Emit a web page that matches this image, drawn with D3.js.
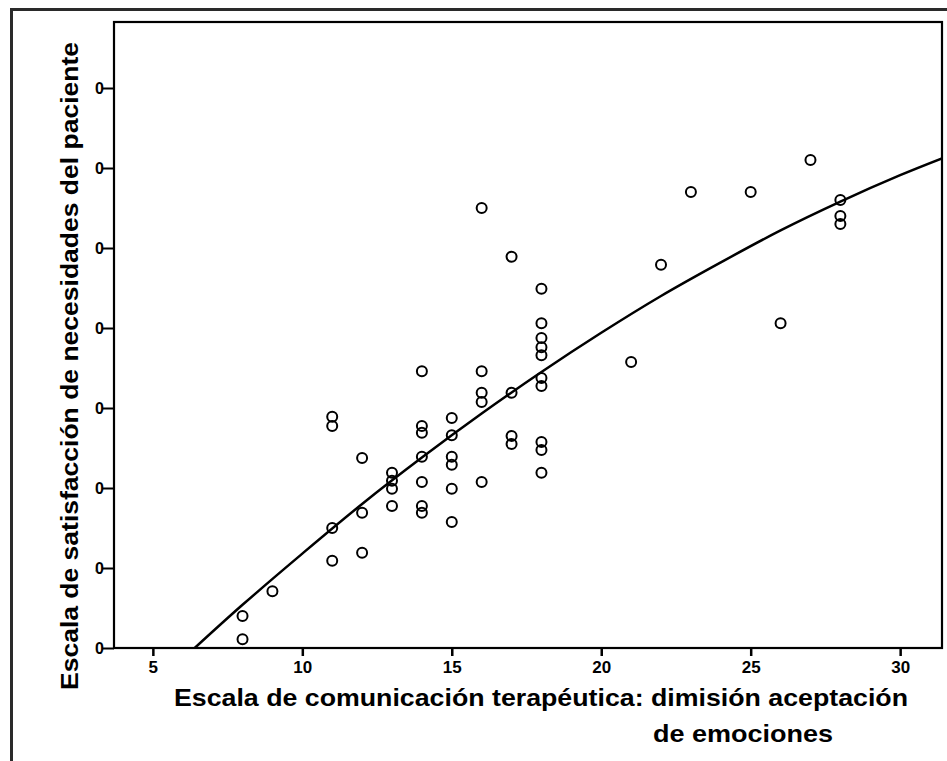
<!DOCTYPE html>
<html>
<head>
<meta charset="utf-8">
<script src="https://cdn.jsdelivr.net/npm/d3@7"></script>
<style>
  body { margin: 0; background: #fff; }
  svg { display: block; font-family: "Liberation Sans", Arial, sans-serif; }
</style>
</head>
<body>
<svg id="chart" width="947" height="761"></svg>
<script>
// observed cases (x = comunicación terapéutica, y = satisfacción)
const obsX = [8, 8, 9, 11, 11, 11, 11, 12, 12, 12, 13, 13, 13, 13,
  14, 14, 14, 14, 14, 14, 14, 15, 15, 15, 15, 15, 15,
  16, 16, 16, 16, 16, 17, 17, 17, 17,
  18, 18, 18, 18, 18, 18, 18, 18, 18, 18,
  21, 22, 23, 25, 26, 27, 28, 28, 28];
const obsY = [34, 31.1, 37.1, 58.9, 57.75, 45, 40.9, 53.75, 46.9, 41.9, 51.9, 50.9, 49.9, 47.75,
  64.6, 57.75, 56.9, 53.9, 50.75, 47.75, 46.9, 58.75, 56.6, 53.9, 52.9, 49.9, 45.75,
  85, 64.6, 61.9, 60.75, 50.75, 78.9, 61.9, 56.5, 55.5,
  74.9, 70.6, 68.75, 67.6, 66.6, 63.75, 62.75, 55.75, 54.75, 51.9,
  65.75, 77.9, 87, 87, 70.6, 91, 86, 84, 83];

// fitted (quadratic) line
const fitX = [6.4, 8, 10, 12, 14, 16, 18, 20, 22, 24, 26, 28, 30, 31.4];
const fitY = [30, 35.4, 41.8, 48, 53.8, 59.3, 64.5, 69.4, 74, 78.2, 82.2, 85.8, 89.1, 91.2];

const xTicks = [5, 10, 15, 20, 25, 30];
const yTicks = [30, 40, 50, 60, 70, 80, 90, 100];

const xTitle = ["Escala de comunicación terapéutica: dimisión aceptación", "de emociones"];
const yTitle = "Escala de satisfacción de necesidades del paciente";

const svg = d3.select("#chart");
const plot = {left: 114, right: 942, top: 22, bottom: 648};

const x = d3.scaleLinear().domain([3.7, 31.4]).range([plot.left, plot.right]);
const y = d3.scaleLinear().domain([30, 108.25]).range([plot.bottom, plot.top]);

svg.append("rect").attr("width", 947).attr("height", 761).attr("fill", "#fff");

// scanned page border
svg.append("rect")
    .attr("x", 11.5).attr("y", 9.5)
    .attr("width", 960).attr("height", 800)
    .attr("fill", "none").attr("stroke", "#2a2a2a").attr("stroke-width", 3);

const defs = svg.append("defs");
defs.append("clipPath").attr("id", "plotClip")
  .append("rect")
    .attr("x", plot.left).attr("y", plot.top)
    .attr("width", plot.right - plot.left).attr("height", plot.bottom - plot.top);
// y labels are cut on the scan, only the last digit shows
defs.append("clipPath").attr("id", "labelClip")
  .append("rect").attr("x", 95).attr("y", 0).attr("width", 40).attr("height", 761);

// fit line
const line = d3.line()
    .x((d, i) => x(d))
    .y((d, i) => y(fitY[i]))
    .curve(d3.curveCatmullRom);

svg.append("path")
    .datum(fitX)
    .attr("clip-path", "url(#plotClip)")
    .attr("d", line)
    .attr("fill", "none")
    .attr("stroke", "#000")
    .attr("stroke-width", 2.5);

// points
svg.append("g").selectAll("circle")
    .data(obsX)
    .enter().append("circle")
        .attr("cx", d => x(d))
        .attr("cy", (d, i) => y(obsY[i]))
        .attr("r", 5)
        .attr("fill", "none")
        .attr("stroke", "#000")
        .attr("stroke-width", 2);

// frame
svg.append("rect")
    .attr("x", plot.left).attr("y", plot.top)
    .attr("width", plot.right - plot.left).attr("height", plot.bottom - plot.top)
    .attr("fill", "none").attr("stroke", "#000").attr("stroke-width", 2.2);

// axes
const xAxis = svg.append("g")
    .attr("transform", "translate(0," + plot.bottom + ")")
    .call(d3.axisBottom(x).tickValues(xTicks).tickSize(8).tickPadding(5));
xAxis.select(".domain").remove();
xAxis.selectAll("line").attr("stroke", "#000").attr("stroke-width", 2.5);
xAxis.selectAll("text")
    .attr("fill", "#000")
    .attr("font-size", 17)
    .attr("font-weight", "bold")
    .attr("font-family", "'Liberation Sans', Arial, sans-serif");

const yAxis = svg.append("g")
    .attr("transform", "translate(" + plot.left + ",0)")
    .call(d3.axisLeft(y).tickValues(yTicks).tickSize(12).tickFormat(""));
yAxis.select(".domain").remove();
yAxis.selectAll("line").attr("stroke", "#000").attr("stroke-width", 2);

svg.append("g")
    .attr("clip-path", "url(#labelClip)")
    .selectAll("text")
    .data(yTicks)
    .enter().append("text")
        .attr("x", 104)
        .attr("y", d => y(d))
        .attr("dy", "0.36em")
        .attr("text-anchor", "end")
        .attr("font-size", 16)
        .attr("font-weight", "bold")
        .attr("fill", "#000")
        .text(d => d);

// axis titles
svg.append("text")
    .attr("x", 174).attr("y", 706)
    .attr("textLength", 734).attr("lengthAdjust", "spacingAndGlyphs")
    .style("font-size", "24px").style("font-weight", "bold")
    .text(xTitle[0]);
svg.append("text")
    .attr("x", 653).attr("y", 742)
    .attr("textLength", 180).attr("lengthAdjust", "spacingAndGlyphs")
    .style("font-size", "24px").style("font-weight", "bold")
    .text(xTitle[1]);

svg.append("text")
    .attr("transform", "translate(78,366) rotate(-90)")
    .attr("text-anchor", "middle")
    .attr("textLength", 648).attr("lengthAdjust", "spacingAndGlyphs")
    .style("font-size", "24px").style("font-weight", "bold")
    .text(yTitle);
</script>
</body>
</html>
